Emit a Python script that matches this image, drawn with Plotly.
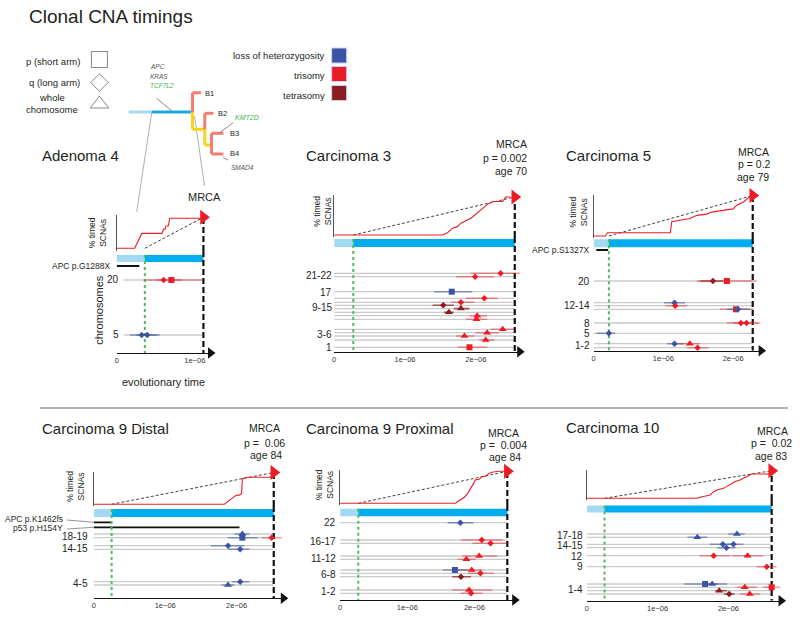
import plotly.graph_objects as go

W, H = 800, 622
FONT = "Liberation Sans, Arial, sans-serif"

# ===================== DATA (times in units of 1e-06) =====================
TICK_VALS = [0, 1, 2]
TICK_TEXT = ["0", "1e\u221206", "2e\u221206"]

# ---- Adenoma 4 ----
A4_TITLE = "Adenoma 4"
A4_MRCA, A4_START = 1.11, 0.36
A4_GROUPS = ["20", "5"]
A4_CUM_T = [0, 0.23, 0.32, 0.58, 0.60, 0.62, 0.63, 0.66, 0.68, 1.11]
A4_CUM_P = [0, 0, 48, 48, 62, 62, 72, 72, 97, 97]
A4_ROW = [0, 0, 1, 1]
A4_T = [0.60, 0.70, 0.32, 0.39]
A4_LO = [0.36, 0.50, 0.17, 0.25]
A4_HI = [0.83, 1.10, 0.51, 0.55]
A4_ARM = ["q", "p", "q", "q"]
A4_CNA = ["tri", "tri", "loh", "loh"]
A4_MUT = ["APC p.G1288X"]
A4_MUT_T0 = [0.0]
A4_MUT_T1 = [0.29]

# ---- Carcinoma 3 ----
C3_TITLE = "Carcinoma 3"
C3_MRCA, C3_START = 2.55, 0.27
C3_P, C3_AGE = "p = 0.002", "age 70"
C3_GROUPS = ["21-22", "17", "9-15", "3-6", "1"]
C3_CUM_T = [0, 1.53, 1.60, 1.67, 1.74, 1.79, 1.93, 2.02, 2.09, 2.16, 2.24, 2.38, 2.42, 2.49]
C3_CUM_P = [0, 0, 6, 18, 22, 31, 44, 58, 71, 80, 88, 88, 100, 100]
C3_ROW = [0, 1, 2, 3, 4, 5, 6, 7, 8, 9, 10, 11, 12, 13, 14]
C3_T = [2.35, 1.99, 1.66, 2.12, 1.79, 1.54, 1.79, 1.62, 2.02, 2.01, 2.38, 2.16, 1.84, 2.14, 1.91]
C3_LO = [1.93, 1.72, 1.41, 1.86, 1.65, 1.39, 1.69, 1.55, 1.91, 1.86, 2.21, 2.00, 1.72, 2.05, 1.74]
C3_HI = [2.70, 2.26, 1.95, 2.31, 1.98, 1.69, 1.91, 1.69, 2.16, 2.16, 2.54, 2.33, 1.98, 2.26, 2.16]
C3_ARM = ["q", "q", "p", "q", "q", "q", "w", "w", "w", "w", "w", "w", "w", "w", "p"]
C3_CNA = ["tri", "tri", "loh", "tri", "tri", "tet", "tet", "tet", "tri", "tri", "tri", "tri", "tri", "tri", "tri"]

# ---- Carcinoma 5 ----
C5_TITLE = "Carcinoma 5"
C5_MRCA, C5_START = 2.28, 0.22
C5_P, C5_AGE = "p = 0.2", "age 79"
C5_GROUPS = ["20", "12-14", "8", "5", "1-2"]
C5_CUM_T = [0, 0.17, 0.20, 1.10, 1.12, 1.24, 1.38, 1.48, 1.62, 1.69, 1.86, 2.00, 2.05, 2.15, 2.24]
C5_CUM_P = [0, 0, 8, 8, 35, 39, 43, 51, 54, 59, 63, 67, 76, 84, 98]
C5_ROW = [0, 0, 1, 2, 3, 3, 4, 4, 5, 6, 6, 7]
C5_T = [1.71, 1.91, 1.16, 1.17, 2.04, 2.07, 2.11, 2.19, 0.22, 1.16, 1.38, 1.49]
C5_LO = [1.53, 1.48, 1.01, 1.03, 1.81, 1.91, 1.91, 2.00, 0.04, 1.05, 1.20, 1.34]
C5_HI = [1.86, 2.34, 1.31, 1.34, 2.29, 2.24, 2.39, 2.36, 0.31, 1.29, 1.53, 1.65]
C5_ARM = ["q", "p", "q", "q", "p", "q", "q", "q", "q", "q", "w", "q"]
C5_CNA = ["tet", "tri", "loh", "tri", "tri", "loh", "tri", "tri", "loh", "loh", "tri", "tri"]
C5_MUT = ["APC p.S1327X"]
C5_MUT_T0 = [0.04]
C5_MUT_T1 = [0.21]

# ---- Carcinoma 9 Distal ----
C9D_TITLE = "Carcinoma 9 Distal"
C9D_MRCA, C9D_START = 2.52, 0.25
C9D_P, C9D_AGE = "p =\u00a0 0.06", "age 84"
C9D_GROUPS = ["18-19", "14-15", "4-5"]
C9D_CUM_T = [0, 1.83, 1.93, 2.00, 2.04, 2.07, 2.08, 2.14, 2.52]
C9D_CUM_P = [0, 0, 18, 29, 29, 34, 80, 85, 85]
C9D_ROW = [0, 1, 1, 2, 3, 4, 5]
C9D_T = [2.08, 2.08, 2.49, 1.88, 2.05, 2.05, 1.88]
C9D_LO = [1.97, 1.88, 2.35, 1.64, 1.88, 1.93, 1.79]
C9D_HI = [2.18, 2.30, 2.63, 2.11, 2.18, 2.18, 1.97]
C9D_ARM = ["w", "p", "q", "q", "q", "q", "w"]
C9D_CNA = ["loh", "loh", "tri", "loh", "loh", "loh", "loh"]
C9D_MUT = ["APC p.K1462fs", "p53 p.H154Y"]
C9D_MUT_T0 = [0.0, 0.0]
C9D_MUT_T1 = [0.24, 2.04]

# ---- Carcinoma 9 Proximal ----
C9P_TITLE = "Carcinoma 9 Proximal"
C9P_MRCA, C9P_START = 2.49, 0.27
C9P_P, C9P_AGE = "p =\u00a0 0.004", "age 84"
C9P_GROUPS = ["22", "16-17", "11-12", "6-8", "1-2"]
C9P_CUM_T = [0, 1.72, 1.77, 1.85, 1.90, 1.94, 1.99, 2.01, 2.07, 2.11, 2.17, 2.22, 2.28, 2.37, 2.49]
C9P_CUM_P = [0, 0, 8, 19, 31, 44, 63, 73, 75, 83, 85, 94, 98, 100, 100]
C9P_ROW = [0, 1, 2, 3, 4, 5, 5, 6, 7, 8, 9]
C9P_T = [1.79, 2.11, 2.24, 2.07, 1.88, 1.71, 1.96, 2.09, 1.80, 1.92, 1.95]
C9P_LO = [1.60, 1.80, 1.97, 1.82, 1.75, 1.53, 1.75, 1.90, 1.67, 1.67, 1.80]
C9P_HI = [1.99, 2.42, 2.49, 2.34, 2.02, 1.90, 2.12, 2.29, 1.95, 2.27, 2.12]
C9P_ARM = ["q", "q", "q", "w", "w", "p", "w", "q", "q", "w", "q"]
C9P_CNA = ["loh", "tri", "tri", "tri", "tri", "loh", "tri", "tri", "tet", "tri", "tri"]

# ---- Carcinoma 10 ----
C10_TITLE = "Carcinoma 10"
C10_MRCA, C10_START = 2.61, 0.25
C10_P, C10_AGE = "p =\u00a0 0.02", "age 83"
C10_GROUPS = ["17-18", "14-15", "12", "9", "1-4"]
C10_CUM_T = [0, 1.55, 1.60, 1.74, 1.79, 1.84, 1.93, 2.02, 2.09, 2.16, 2.26, 2.33, 2.61]
C10_CUM_P = [0, 0, 4, 12, 24, 30, 36, 48, 60, 66, 78, 88, 88]
C10_ROW = [0, 1, 2, 2, 3, 4, 4, 5, 6, 6, 7, 7, 8, 9, 9]
C10_T = [2.12, 1.56, 1.92, 2.07, 1.97, 1.79, 2.27, 2.54, 1.67, 1.77, 2.23, 2.61, 1.87, 2.01, 2.30]
C10_LO = [2.00, 1.42, 1.74, 1.98, 1.84, 1.59, 2.05, 2.40, 1.37, 1.65, 2.12, 2.49, 1.81, 1.93, 2.16]
C10_HI = [2.23, 1.70, 2.07, 2.21, 2.10, 2.02, 2.49, 2.68, 1.86, 1.98, 2.40, 2.73, 1.98, 2.09, 2.45]
C10_ARM = ["w", "w", "q", "q", "q", "q", "w", "q", "p", "w", "w", "p", "w", "q", "w"]
C10_CNA = ["loh", "loh", "loh", "loh", "loh", "tri", "tri", "tri", "loh", "loh", "tri", "tri", "tet", "tet", "tri"]

# legend texts
LEG_ARM = ["p (short arm)", "q (long arm)"]
LEG_CNA = ["loss of heterozygosity", "trisomy", "tetrasomy"]

# ===================== STYLE / GEOMETRY (pixels) =====================
COLORS = {"loh": "#3b54a5", "tri": "#ec1c24", "tet": "#8a1b1f"}
ERRCOL = {"loh": "rgba(59,84,165,0.55)", "tri": "rgba(236,28,36,0.45)", "tet": "rgba(138,27,31,0.7)"}
SYMBOL = {"p": "square", "q": "diamond", "w": "triangle-up"}
MSIZE = {"p": 6, "q": 5, "w": 7}

G_A4 = dict(x0=115, ppu=78.3, x_r=209, cum_top=215, cum0=248.3, cum100=217.3, cum_bot=251,
            axis_y=353, bar_y=258.5, bar_h=7, row_y=[280, 335], label_x=119, label_y=[280, 335],
            mut_y=[266], mut_lab_x=110, mut_lab_y=[266], row_start=0.09,
            title=(38, 155), mrca_txt=[(203, 197)], mrca_anchor="center", scnas=(96.5, 233))
G_C3 = dict(x0=333, ppu=71, x_r=519, cum_top=195, cum0=235, cum100=197, cum_bot=237,
            axis_y=351.7, bar_y=243, bar_h=8,
            row_y=[273.3, 276.7, 291.7, 298.3, 302.3, 305.3, 308.6, 312.3, 315.7, 319.3, 329.3, 332.7, 336, 340, 347.3],
            label_x=333, label_y=[275, 292, 308, 335, 347],
            title=(303, 155), mrca_txt=[(528, 144), (528, 158), (528, 171)], mrca_anchor="right", scnas=(320.5, 211))
G_C5 = dict(x0=593, ppu=70, x_r=761, cum_top=195, cum0=236, cum100=195.5, cum_bot=238,
            axis_y=350.7, bar_y=243.3, bar_h=8,
            row_y=[281, 302.7, 305.7, 309.3, 323, 333.3, 343.7, 347.7],
            label_x=591, label_y=[281, 305.7, 323, 333.3, 345.7],
            mut_y=[250], mut_lab_x=591, mut_lab_y=[250],
            title=(563, 155), mrca_txt=[(753, 152), (754, 164), (753, 176.5)], mrca_anchor="center", scnas=(578, 212))
G_C9D = dict(x0=92, ppu=71.6, x_r=282, cum_top=471.7, cum0=504.3, cum100=472.5, cum_bot=506,
             axis_y=598.3, bar_y=513, bar_h=8, row_y=[534, 537.7, 545.7, 549.3, 581.7, 585],
             label_x=88.5, label_y=[536, 548, 583.3],
             mut_y=[522.3, 527.3], mut_lab_x=63, mut_lab_y=[519, 528], mut_leader=True,
             title=(38, 428), mrca_txt=[(263, 428), (263, 442.7), (264.5, 455)], mrca_anchor="center", scnas=(73, 486))
G_C9P = dict(x0=339, ppu=67.3, x_r=514, cum_top=470, cum0=503.3, cum100=471.3, cum_bot=505,
             axis_y=600, bar_y=512.5, bar_h=7.5,
             row_y=[522.7, 540, 543.3, 556, 559.3, 570, 573.3, 576.7, 590, 593.3],
             label_x=336.5, label_y=[522.7, 541.7, 558.3, 574, 591.7],
             title=(303, 428), mrca_txt=[(503, 433), (503, 445), (504, 456.7)], mrca_anchor="center", scnas=(323, 485))
G_C10 = dict(x0=586.3, ppu=71, x_r=781, cum_top=470, cum0=498.3, cum100=470.7, cum_bot=500,
             axis_y=600.7, bar_y=509, bar_h=7,
             row_y=[534, 537.3, 544.3, 547.7, 555.7, 566.7, 584, 587.3, 590.7, 594],
             label_x=584.5, label_y=[535.2, 545.8, 556.2, 566.7, 589],
             title=(563, 427), mrca_txt=[(772, 431), (771, 443), (771, 455.7)], mrca_anchor="center", scnas=None)

fig = go.Figure()
lay = {}
ann = []
shp = []
n_axes = [0]


def fx(p):
    return p / W


def fy(p):
    return 1 - p / H


def axis_ids():
    n_axes[0] += 1
    n = n_axes[0]
    s = "" if n == 1 else str(n)
    return "x" + s, "y" + s, "xaxis" + s, "yaxis" + s


def text(x, y, s, size, xanchor="center", color="#231f20", angle=0, yanchor="middle"):
    ann.append(dict(x=fx(x), y=fy(y), xref="paper", yref="paper", text=s, showarrow=False,
                    xanchor=xanchor, yanchor=yanchor, textangle=angle,
                    font=dict(family=FONT, size=size, color=color)))


def seg(x0, y0, x1, y1, color, width, dash=None):
    d = dict(type="line", xref="paper", yref="paper", x0=fx(x0), y0=fy(y0), x1=fx(x1), y1=fy(y1),
             line=dict(color=color, width=width))
    if dash:
        d["line"]["dash"] = dash
    shp.append(d)


def line_trace(x, y, xa, ya, color, width, dash=None):
    ln = dict(color=color, width=width)
    if dash:
        ln["dash"] = dash
    fig.add_trace(go.Scatter(x=x, y=y, xaxis=xa, yaxis=ya, mode="lines", line=ln,
                             hoverinfo="skip", showlegend=False))


def panel(g, title, mrca, start, cum_t, cum_p, groups, rows, ts, los, his, arms, cnas,
          muts=None, mt0=None, mt1=None, p_txt=None, age_txt=None):
    xr = (g["x_r"] - g["x0"]) / g["ppu"]
    xdom = [fx(g["x0"]), fx(g["x_r"])]
    # ---------- cumulative subplot ----------
    cx, cy, cxa, cya = axis_ids()
    span = g["cum0"] - g["cum100"]

    def pct(p):
        return (g["cum0"] - p) / span * 100

    lay[cxa] = dict(domain=xdom, range=[0, xr], visible=False, anchor=cy, fixedrange=True)
    lay[cya] = dict(domain=[fy(g["cum_bot"]), fy(g["cum_top"])], range=[pct(g["cum_bot"]), pct(g["cum_top"])],
                    showline=True, linecolor="#555", linewidth=1, showticklabels=False, ticks="",
                    showgrid=False, zeroline=False, anchor=cx, fixedrange=True)
    # ---------- rows subplot ----------
    rx, ry, rxa, rya = axis_ids()
    lay[rxa] = dict(domain=xdom, range=[0, xr], showline=True, linecolor="#111", linewidth=1.3,
                    tickvals=TICK_VALS, ticktext=TICK_TEXT, ticks="",
                    tickfont=dict(size=7.5, color="#333", family=FONT),
                    showgrid=False, zeroline=False, anchor=ry, fixedrange=True)
    lay[rya] = dict(domain=[fy(g["axis_y"]), fy(g["cum_bot"])], range=[g["axis_y"], g["cum_bot"]],
                    visible=False, anchor=rx, fixedrange=True)

    # row guide lines
    rs = g.get("row_start", 0)
    xs, ys = [], []
    for y in g["row_y"]:
        xs += [rs, mrca, None]
        ys += [y, y, None]
    line_trace(xs, ys, rx, ry, "#cbcbcb", 1.3)
    # clonal bar
    line_trace([0, start], [g["bar_y"]] * 2, rx, ry, "#a3d9f2", g["bar_h"])
    line_trace([start, mrca], [g["bar_y"]] * 2, rx, ry, "#00aeef", g["bar_h"])
    # mutations
    if muts:
        for i, m in enumerate(muts):
            line_trace([mt0[i], mt1[i]], [g["mut_y"][i]] * 2, rx, ry, "#111", 1.8)
            text(g["mut_lab_x"], g["mut_lab_y"][i], m, 8.5, xanchor="right")
            if g.get("mut_leader"):
                seg(g["mut_lab_x"] + 2, g["mut_lab_y"][i] + 1, g["x0"], g["mut_y"][i], "#666", 0.7)
    # green start line
    line_trace([start, start], [g["bar_y"] - g["bar_h"] / 2, g["axis_y"]], rx, ry, "#4cbc5c", 2, "dot")
    # MRCA dashed line
    line_trace([mrca, mrca], [g["cum_bot"], g["axis_y"]], rx, ry, "#111", 2.2, "6px,3px")
    # events
    keys = []
    for a, c in zip(arms, cnas):
        if (c, a) not in keys:
            keys.append((c, a))
    for c, a in keys:
        idx = [i for i in range(len(ts)) if arms[i] == a and cnas[i] == c]
        fig.add_trace(go.Scatter(
            x=[ts[i] for i in idx], y=[g["row_y"][rows[i]] for i in idx],
            xaxis=rx, yaxis=ry, mode="markers", cliponaxis=False,
            marker=dict(symbol=SYMBOL[a], size=MSIZE[a], color=COLORS[c], line=dict(width=0)),
            error_x=dict(type="data", symmetric=False,
                         array=[his[i] - ts[i] for i in idx],
                         arrayminus=[ts[i] - los[i] for i in idx],
                         color=ERRCOL[c], thickness=1.6, width=0),
            hoverinfo="skip", showlegend=False))
    # axis arrow
    fig.add_trace(go.Scatter(x=[xr], y=[g["axis_y"]], xaxis=rx, yaxis=ry, mode="markers", cliponaxis=False,
                             marker=dict(symbol="triangle-right", size=10, color="#111"),
                             hoverinfo="skip", showlegend=False))

    # cumulative traces
    line_trace([start, mrca], [0, 100], cx, cy, "#444", 1.0, "3px,2px")
    line_trace([mrca, mrca], [pct(g["cum_bot"]), 96], cx, cy, "#111", 2.2, "6px,3px")
    line_trace(cum_t, cum_p, cx, cy, "#ec1c24", 1.1)
    fig.add_trace(go.Scatter(x=[mrca], y=[100], xaxis=cx, yaxis=cy, mode="markers", cliponaxis=False,
                             marker=dict(symbol="triangle-right", size=13, color="#ec1c24"),
                             hoverinfo="skip", showlegend=False))

    # texts
    for lab, y in zip(groups, g["label_y"]):
        text(g["label_x"], y, lab, 10, xanchor="right")
    text(g["title"][0], g["title"][1], title, 15, xanchor="left")
    mt = ["MRCA"] + ([p_txt, age_txt] if p_txt else [])
    for s, (x, y) in zip(mt, g["mrca_txt"]):
        text(x, y, s, 10.5 if p_txt else 11, xanchor=g["mrca_anchor"])
    if g.get("scnas"):
        text(g["scnas"][0], g["scnas"][1], "% timed<br>SCNAs", 8.5, angle=-90)


panel(G_A4, A4_TITLE, A4_MRCA, A4_START, A4_CUM_T, A4_CUM_P, A4_GROUPS,
      A4_ROW, A4_T, A4_LO, A4_HI, A4_ARM, A4_CNA, A4_MUT, A4_MUT_T0, A4_MUT_T1)
panel(G_C3, C3_TITLE, C3_MRCA, C3_START, C3_CUM_T, C3_CUM_P, C3_GROUPS,
      C3_ROW, C3_T, C3_LO, C3_HI, C3_ARM, C3_CNA, p_txt=C3_P, age_txt=C3_AGE)
panel(G_C5, C5_TITLE, C5_MRCA, C5_START, C5_CUM_T, C5_CUM_P, C5_GROUPS,
      C5_ROW, C5_T, C5_LO, C5_HI, C5_ARM, C5_CNA, C5_MUT, C5_MUT_T0, C5_MUT_T1, C5_P, C5_AGE)
panel(G_C9D, C9D_TITLE, C9D_MRCA, C9D_START, C9D_CUM_T, C9D_CUM_P, C9D_GROUPS,
      C9D_ROW, C9D_T, C9D_LO, C9D_HI, C9D_ARM, C9D_CNA, C9D_MUT, C9D_MUT_T0, C9D_MUT_T1, C9D_P, C9D_AGE)
panel(G_C9P, C9P_TITLE, C9P_MRCA, C9P_START, C9P_CUM_T, C9P_CUM_P, C9P_GROUPS,
      C9P_ROW, C9P_T, C9P_LO, C9P_HI, C9P_ARM, C9P_CNA, p_txt=C9P_P, age_txt=C9P_AGE)
panel(G_C10, C10_TITLE, C10_MRCA, C10_START, C10_CUM_T, C10_CUM_P, C10_GROUPS,
      C10_ROW, C10_T, C10_LO, C10_HI, C10_ARM, C10_CNA, p_txt=C10_P, age_txt=C10_AGE)

# Adenoma extra axis labels
text(97, 310, "chromosomes", 11, angle=-90)
text(162, 382, "evolutionary time", 11)

# ---------- header: title, legend, tree ----------
text(25, 17, "Clonal CNA timings", 19, xanchor="left")

ox, oy, oxa, oya = axis_ids()
lay[oxa] = dict(domain=[0, 1], range=[0, W], visible=False, anchor=oy, fixedrange=True)
lay[oya] = dict(domain=[0, 1], range=[H, 0], visible=False, anchor=ox, fixedrange=True)
fig.add_trace(go.Scatter(x=[97.7, 97.7, 97.7], y=[59.5, 82.5, 104], xaxis=ox, yaxis=oy, mode="markers",
                         marker=dict(symbol=["square-open", "diamond-open", "triangle-up-open"],
                                     size=[16, 13.5, 16], color="#555", line=dict(width=1)),
                         hoverinfo="skip", showlegend=False))
fig.add_trace(go.Scatter(x=[338, 338, 338], y=[55.5, 74, 93], xaxis=ox, yaxis=oy, mode="markers",
                         marker=dict(symbol="square", size=15,
                                     color=[COLORS["loh"], COLORS["tri"], COLORS["tet"]],
                                     line=dict(width=1, color="#c9d2ee")),
                         hoverinfo="skip", showlegend=False))
text(80, 61, LEG_ARM[0], 9.5, xanchor="right")
text(80, 82, LEG_ARM[1], 9.5, xanchor="right")
text(50, 98, "whole", 9.5)
text(50, 109, "chomosome", 9.5)
for s, y in zip(LEG_CNA, [55, 75, 95]):
    text(326, y, s, 9.5, xanchor="right")

# tree
seg(150, 113, 135, 212, "#9a9a9a", 0.8)
seg(193, 116, 203, 186, "#9a9a9a", 0.8)
seg(127, 112, 150, 112, "#a3d9f2", 3)
seg(150, 112, 191, 112, "#1ba6e3", 3)
SAL, YEL = "#f47d6f", "#f9d21a"
seg(191, 92.7, 191, 112, SAL, 3)
seg(191, 92.7, 199.5, 92.7, SAL, 3)
seg(191, 112, 191, 129.3, YEL, 3)
seg(191, 129.3, 203.3, 129.3, YEL, 3)
seg(203.3, 113.3, 203.3, 129.3, SAL, 3)
seg(203.3, 113.3, 212, 113.3, SAL, 3)
seg(203.3, 129.3, 203.3, 145, YEL, 3)
seg(203.3, 145, 210, 145, YEL, 3)
seg(210, 133.3, 210, 154, SAL, 3)
seg(210, 133.3, 222, 133.3, SAL, 3)
seg(210, 154, 222, 154, SAL, 3)
seg(155, 98.3, 170, 110.7, "#555", 0.7)
seg(231.7, 122.7, 218.3, 132.7, "#555", 0.7)
seg(226.7, 160, 221.7, 157.3, "#555", 0.7)
text(146, 66.7, "<i>APC</i>", 6.5, xanchor="left", color="#555")
text(146, 76, "<i>KRAS</i>", 6.5, xanchor="left", color="#555")
text(146, 85.7, "<i>TCF7L2</i>", 6.5, xanchor="left", color="#3cb44b")
text(201.7, 93.3, "B1", 7.5, xanchor="left")
text(215, 113.3, "B2", 7.5, xanchor="left")
text(226.7, 133.3, "B3", 7.5, xanchor="left")
text(226.7, 154, "B4", 7.5, xanchor="left")
text(231.7, 117.3, "<i>KMT2D</i>", 7, xanchor="left", color="#3cb44b")
text(228, 167.3, "<i>SMAD4</i>", 6.5, xanchor="left", color="#555")

# divider
seg(38, 408, 788, 408, "#666", 1.2)

fig.update_layout(width=W, height=H, margin=dict(l=0, r=0, t=0, b=0),
                  paper_bgcolor="white", plot_bgcolor="rgba(0,0,0,0)", showlegend=False,
                  font=dict(family=FONT, color="#231f20"), annotations=ann, shapes=shp, **lay)

fig.write_html("out.html", config={"displayModeBar": False},
               post_script="document.body.style.margin='0';document.body.style.overflow='hidden';")
